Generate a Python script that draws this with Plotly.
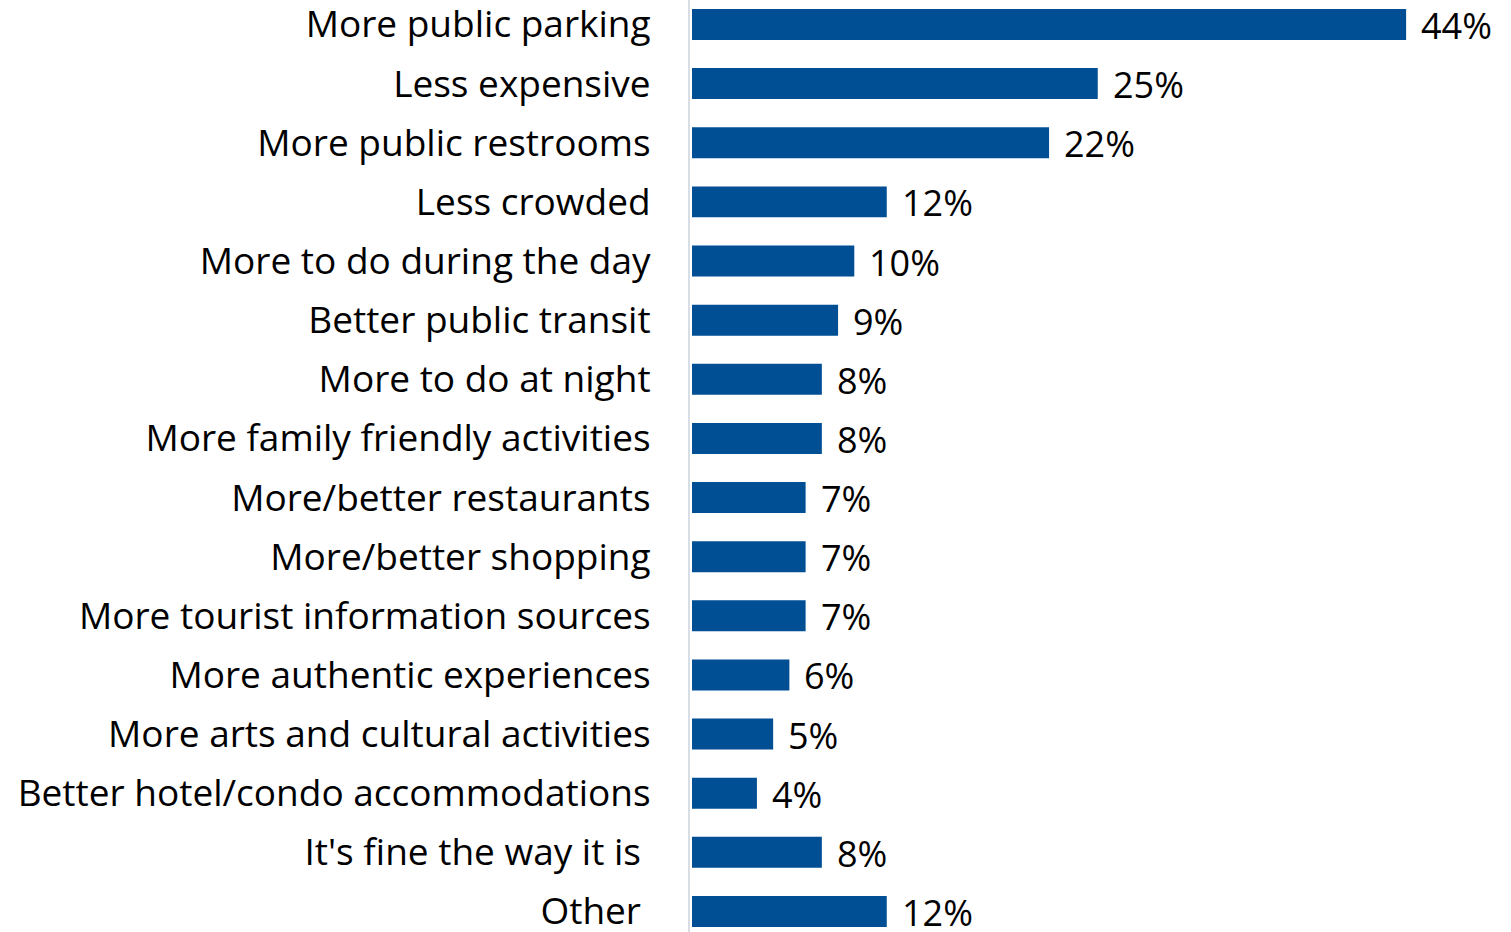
import plotly.graph_objects as go

# Survey responses: what would improve the visit
categories = [
    "More public parking",
    "Less expensive",
    "More public restrooms",
    "Less crowded",
    "More to do during the day",
    "Better public transit",
    "More to do at night",
    "More family friendly activities",
    "More/better restaurants",
    "More/better shopping",
    "More tourist information sources",
    "More authentic experiences",
    "More arts and cultural activities",
    "Better hotel/condo accommodations",
    "It's fine the way it is\u00a0",
    "Other\u00a0",
]
values = [44, 25, 22, 12, 10, 9, 8, 8, 7, 7, 7, 6, 5, 4, 8, 12]

BAR_COLOR = "#004F95"
FONT = "Open Sans"
LABEL_SIZE = 37
VALUE_SIZE = 36
PX_PER_UNIT = 16.23

W, H = 1511, 932
LEFT = 690

fig = go.Figure(
    go.Bar(
        x=values,
        y=categories,
        orientation="h",
        marker=dict(color=BAR_COLOR, line=dict(width=0)),
        hoverinfo="skip",
    )
)

for cat, val in zip(categories, values):
    fig.add_annotation(
        x=val, y=cat, text=f"{val}%", showarrow=False,
        xanchor="left", yanchor="middle", xshift=13, yshift=-1,
        font=dict(family=FONT, size=VALUE_SIZE, color="#000000"),
    )

plot_w = W - LEFT
fig.update_layout(
    width=W, height=H,
    margin=dict(l=LEFT, r=0, t=0, b=0, pad=0, autoexpand=False),
    paper_bgcolor="white", plot_bgcolor="white",
    bargap=0.476,
    showlegend=False,
    xaxis=dict(
        range=[-2 / PX_PER_UNIT, (plot_w - 2) / PX_PER_UNIT],
        visible=False, showgrid=False, zeroline=False, automargin=False,
    ),
    yaxis=dict(
        type="category",
        categoryorder="array", categoryarray=categories,
        range=[15.347, -0.414],
        automargin=False,
        showgrid=False, zeroline=False,
        showline=True, linecolor="#D9DEE4", linewidth=2,
        ticks="", ticklabelstandoff=30,
        tickfont=dict(family=FONT, size=LABEL_SIZE, color="#000000"),
    ),
)

fig.write_html("out.html")
